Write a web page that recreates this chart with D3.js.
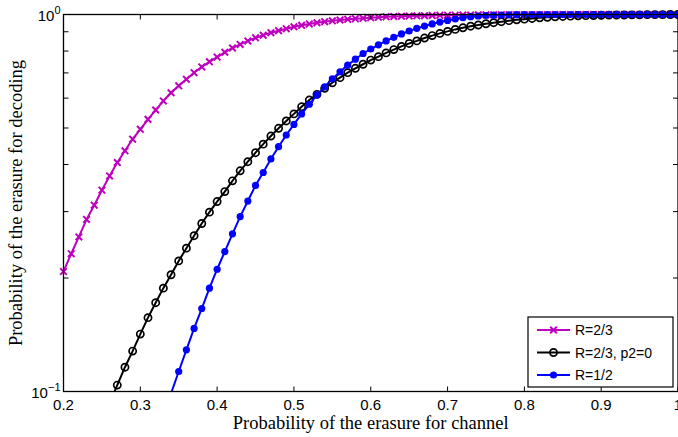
<!doctype html>
<html lang="en">
<head>
  <meta charset="utf-8">
  <title>Erasure probability</title>
  <script src="https://cdnjs.cloudflare.com/ajax/libs/d3/7.8.5/d3.min.js"></script>
  <style>
    body { margin:0; background:#fff; }
    svg { display:block; }
    .tick-label { font-family:"Liberation Sans", Arial, sans-serif; font-size:15px; fill:#000; }
    .axis-title { font-family:"Liberation Serif", "Times New Roman", serif; font-size:18.5px; fill:#000; }
    .legend-text { font-family:"Liberation Sans", Arial, sans-serif; font-size:14px; fill:#000; }
  </style>
</head>
<body>
<svg width="678" height="437"></svg>
<script>
  // x grid for R=2/3 (0.20 .. 1.00)
  const pMag = [0.20,0.21,0.22,0.23,0.24,0.25,0.26,0.27,0.28,0.29,0.30,0.31,0.32,0.33,0.34,0.35,0.36,0.37,0.38,0.39,
    0.40,0.41,0.42,0.43,0.44,0.45,0.46,0.47,0.48,0.49,0.50,0.51,0.52,0.53,0.54,0.55,0.56,0.57,0.58,0.59,
    0.60,0.61,0.62,0.63,0.64,0.65,0.66,0.67,0.68,0.69,0.70,0.71,0.72,0.73,0.74,0.75,0.76,0.77,0.78,0.79,
    0.80,0.81,0.82,0.83,0.84,0.85,0.86,0.87,0.88,0.89,0.90,0.91,0.92,0.93,0.94,0.95,0.96,0.97,0.98,0.99,1.00];
  const vMag = [0.208,0.232,0.257,0.286,0.312,0.342,0.373,0.405,0.435,0.467,0.496,0.527,0.558,0.590,0.620,0.647,0.673,0.701,0.726,0.749,
    0.771,0.794,0.815,0.833,0.851,0.867,0.881,0.895,0.906,0.917,0.928,0.936,0.944,0.951,0.957,0.962,0.967,0.971,0.975,0.978,
    0.981,0.984,0.986,0.988,0.990,0.991,0.992,0.993,0.994,0.995,0.996,0.996,0.997,0.997,0.998,0.998,0.998,0.999,0.999,0.999,
    0.999,0.999,0.999,0.999,1,1,1,1,1,1,1,1,1,1,1,1,1,1,1,1,1];

  // R=2/3, p2=0 (0.26 .. 1.00)
  const pBlk = [0.26,0.27,0.28,0.29,0.30,0.31,0.32,0.33,0.34,0.35,0.36,0.37,0.38,0.39,
    0.40,0.41,0.42,0.43,0.44,0.45,0.46,0.47,0.48,0.49,0.50,0.51,0.52,0.53,0.54,0.55,0.56,0.57,0.58,0.59,
    0.60,0.61,0.62,0.63,0.64,0.65,0.66,0.67,0.68,0.69,0.70,0.71,0.72,0.73,0.74,0.75,0.76,0.77,0.78,0.79,
    0.80,0.81,0.82,0.83,0.84,0.85,0.86,0.87,0.88,0.89,0.90,0.91,0.92,0.93,0.94,0.95,0.96,0.97,0.98,0.99,1.00];
  const vBlk = [0.093,0.104,0.116,0.128,0.142,0.157,0.172,0.188,0.204,0.222,0.240,0.259,0.279,0.299,
    0.319,0.339,0.362,0.385,0.407,0.430,0.453,0.476,0.499,0.522,0.545,0.569,0.593,0.614,0.637,0.659,0.680,0.701,0.720,0.738,
    0.757,0.773,0.791,0.807,0.823,0.838,0.851,0.866,0.879,0.891,0.902,0.913,0.922,0.931,0.938,0.945,0.951,0.957,0.963,0.968,
    0.972,0.976,0.980,0.983,0.986,0.988,0.990,0.992,0.993,0.994,0.995,0.996,0.997,0.997,0.998,0.998,0.999,0.999,0.999,1,1];

  // R=1/2 (0.34 .. 1.00)
  const pBlu = [0.34,0.35,0.36,0.37,0.38,0.39,
    0.40,0.41,0.42,0.43,0.44,0.45,0.46,0.47,0.48,0.49,0.50,0.51,0.52,0.53,0.54,0.55,0.56,0.57,0.58,0.59,
    0.60,0.61,0.62,0.63,0.64,0.65,0.66,0.67,0.68,0.69,0.70,0.71,0.72,0.73,0.74,0.75,0.76,0.77,0.78,0.79,
    0.80,0.81,0.82,0.83,0.84,0.85,0.86,0.87,0.88,0.89,0.90,0.91,0.92,0.93,0.94,0.95,0.96,0.97,0.98,0.99,1.00];
  const vBlu = [0.0988,0.113,0.129,0.147,0.166,0.188,
    0.211,0.235,0.262,0.291,0.320,0.352,0.381,0.414,0.446,0.479,0.511,0.545,0.578,0.612,0.643,0.675,0.705,0.734,0.761,0.788,
    0.810,0.831,0.851,0.870,0.888,0.904,0.919,0.932,0.944,0.955,0.964,0.973,0.981,0.987,0.991,0.994,0.996,0.997,0.998,0.999,
    1,1,1,1,1,1,1,1,1,1,1,1,1,1,1,1,1,1,1,1,1];

  const xTicks = [0.2,0.3,0.4,0.5,0.6,0.7,0.8,0.9,1];
  const yMinor = [0.2,0.3,0.4,0.5,0.6,0.7,0.8,0.9];
  const seriesNames = ["R=2/3","R=2/3, p2=0","R=1/2"];
  const seriesColors = ["#bf00bf","#000000","#0000ff"];
  const seriesMarkers = ["cross","circle","dot"];

  const margin = {top:14.5, left:63.5, bottom:45.5, right:0};
  const width = 678 - margin.left - margin.right;
  const height = 437 - margin.top - margin.bottom;

  const svg = d3.select("svg");
  const g = svg.append("g").attr("transform",`translate(${margin.left},${margin.top})`);

  const xScale = d3.scaleLinear().domain([0.2,1]).range([0,width]);
  const yScale = d3.scaleLog().domain([0.1,1]).range([height,0]);

  svg.append("defs").append("clipPath").attr("id","clip")
    .append("rect").attr("x",-10).attr("y",-10).attr("width",width+20).attr("height",height+10);

  const series = [
    {p:pMag, v:vMag},
    {p:pBlk, v:vBlk},
    {p:pBlu, v:vBlu}
  ].map((s,i)=>({
    name:seriesNames[i], color:seriesColors[i], marker:seriesMarkers[i],
    pts:s.p.map((x,j)=>({x:x, y:s.v[j]}))
  }));

  const line = d3.line().x(d=>xScale(d.x)).y(d=>yScale(d.y));

  const plot = g.append("g").attr("clip-path","url(#clip)");

  function drawMarker(sel, kind, color) {
    if (kind === "cross") {
      sel.append("path").attr("d","M-3.3,-3.3L3.3,3.3M-3.3,3.3L3.3,-3.3")
        .attr("stroke",color).attr("stroke-width",2).attr("fill","none");
    } else if (kind === "circle") {
      sel.append("circle").attr("r",3.6).attr("fill","none")
        .attr("stroke",color).attr("stroke-width",1.7);
    } else {
      sel.append("circle").attr("r",3.6).attr("fill",color);
    }
  }

  series.forEach(s=>{
    plot.append("path").datum(s.pts)
      .attr("d",line).attr("fill","none")
      .attr("stroke",s.color).attr("stroke-width",2);
    const m = plot.selectAll(null).data(s.pts.filter(d=>d.y>=0.1)).enter().append("g")
      .attr("transform",d=>`translate(${xScale(d.x)},${yScale(d.y)})`);
    drawMarker(m, s.marker, s.color);
  });

  // frame
  g.append("rect").attr("width",width).attr("height",height)
    .attr("fill","none").attr("stroke","#000").attr("stroke-width",1.3);

  // x ticks (bottom and top)
  const tl = 5;
  xTicks.forEach(t=>{
    const x = xScale(t);
    g.append("line").attr("x1",x).attr("x2",x).attr("y1",height).attr("y2",height-tl).attr("stroke","#000");
    g.append("line").attr("x1",x).attr("x2",x).attr("y1",0).attr("y2",tl).attr("stroke","#000");
    g.append("text").attr("class","tick-label").attr("x",x).attr("y",height+18.5)
      .attr("text-anchor","middle").text(d3.format("")(t));
  });

  // y ticks, minor and major, both sides
  yMinor.concat([0.1,1]).forEach(t=>{
    const y = yScale(t);
    g.append("line").attr("x1",0).attr("x2",tl).attr("y1",y).attr("y2",y).attr("stroke","#000");
    g.append("line").attr("x1",width).attr("x2",width-tl).attr("y1",y).attr("y2",y).attr("stroke","#000");
  });
  [[1,"0"],[0.1,"\u22121"]].forEach(([t,e])=>{
    const txt = g.append("text").attr("class","tick-label").attr("x",-3).attr("y",yScale(t)+6)
      .attr("text-anchor","end");
    txt.append("tspan").text("10");
    txt.append("tspan").attr("dy",-7).attr("font-size","11px").text(e);
  });

  // axis titles
  g.append("text").attr("class","axis-title").attr("x",width/2).attr("y",height+37.5)
    .attr("text-anchor","middle").text("Probability of the erasure for channel");
  g.append("text").attr("class","axis-title")
    .attr("transform",`translate(${-margin.left+22},${height/2}) rotate(-90)`)
    .attr("text-anchor","middle").text("Probability of the erasure for decoding");

  // legend
  const lg = svg.append("g").attr("transform","translate(528,317)");
  lg.append("rect").attr("width",145).attr("height",70).attr("fill","#fff")
    .attr("stroke","#000").attr("stroke-width",1.2);
  series.forEach((s,i)=>{
    const row = lg.append("g").attr("transform",`translate(0,${13+i*22.5})`);
    row.append("line").attr("x1",9).attr("x2",42).attr("y1",0).attr("y2",0)
      .attr("stroke",s.color).attr("stroke-width",2);
    const mk = row.append("g").attr("transform","translate(25.5,0)");
    drawMarker(mk, s.marker, s.color);
    row.append("text").attr("class","legend-text").attr("x",47).attr("y",5).text(s.name);
  });
</script>
</body>
</html>
